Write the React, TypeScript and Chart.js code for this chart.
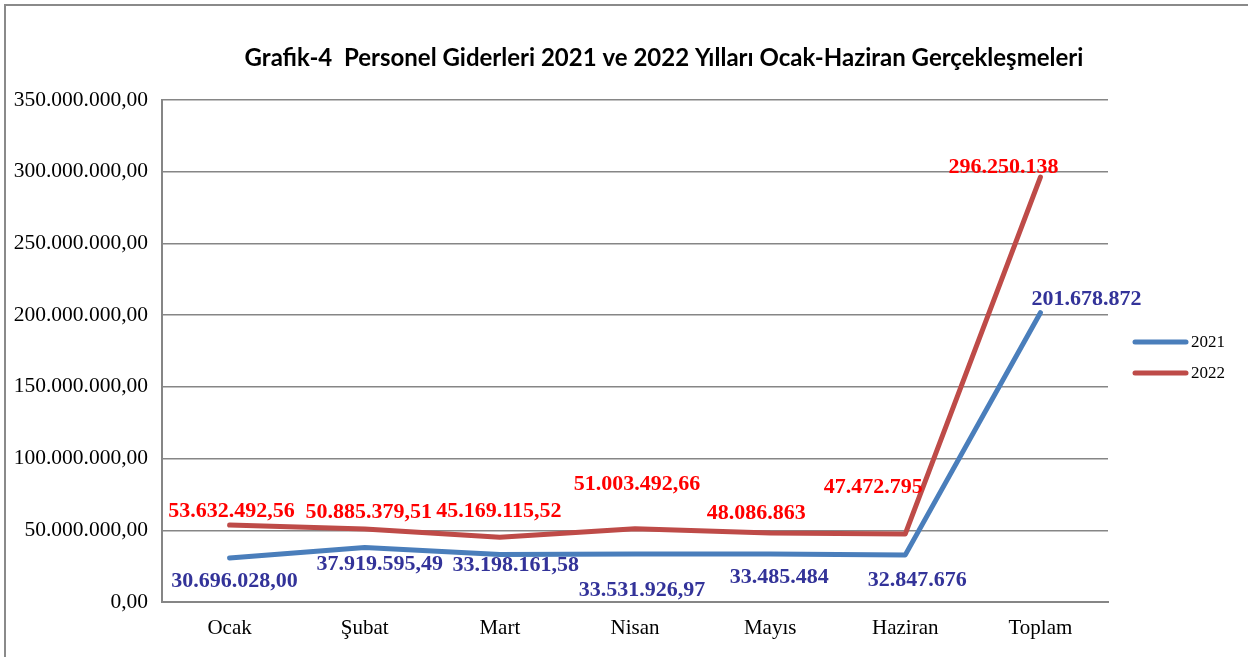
import React, { useEffect, useRef } from "react";
import { Chart, registerables } from "chart.js";
Chart.register(...registerables);

const categories = ["Ocak", "Şubat", "Mart", "Nisan", "Mayıs", "Haziran", "Toplam"];
const values2021 = [30696028.0, 37919595.49, 33198161.58, 33531926.97, 33485484, 32847676, 201678872];
const values2022 = [53632492.56, 50885379.51, 45169115.52, 51003492.66, 48086863, 47472795, 296250138];
const decimals2021 = [2, 2, 2, 2, 0, 0, 0];
const decimals2022 = [2, 2, 2, 2, 0, 0, 0];
const seriesNames = ["2021", "2022"];
const yTicks = [0, 50000000, 100000000, 150000000, 200000000, 250000000, 300000000, 350000000];
const titleText = "Grafik-4  Personel Giderleri 2021 ve 2022 Yılları Ocak-Haziran Gerçekleşmeleri";

// label offsets (px) relative to each point
const labelOffsets2021 = [[5, 23], [15, 17], [16, 11], [7, 36], [9, 23], [12, 25], [46, -13]];
const labelOffsets2022 = [[2, -14], [4, -17], [-1, -26], [2, -45], [-14, -20], [-32, -47], [-37, -10]];

function fmtTR(v: number, dec: number): string {
  const fixed = v.toFixed(dec);
  const [intPart, decPart] = fixed.split(".");
  const withDots = intPart.replace(/\B(?=(\d{3})+(?!\d))/g, ".");
  return decPart ? withDots + "," + decPart : withDots;
}

export default function App() {
  const ref = useRef<HTMLCanvasElement>(null);
  useEffect(() => {
    document.body.style.margin = "0";
    const canvas = ref.current!;
    const decs = [decimals2021, decimals2022];
    const offs = [labelOffsets2021, labelOffsets2022];
    const labelColors = ["#333399", "#FF0000"];

    const framePlugin = {
      id: "frame",
      beforeDraw(chart: any) {
        const ctx = chart.ctx;
        ctx.save();
        ctx.fillStyle = "#ffffff";
        ctx.fillRect(0, 0, chart.width, chart.height);
        ctx.strokeStyle = "#8a8a8a";
        ctx.lineWidth = 2;
        ctx.strokeRect(5, 5, chart.width + 20, chart.height + 20);
        ctx.restore();
      },
      afterDraw(chart: any) {
        const ctx = chart.ctx;
        ctx.save();
        ctx.fillStyle = "#000";
        ctx.font = "bold 24px Lato";
        ctx.textAlign = "center";
        ctx.textBaseline = "middle";
        ctx.fillText(titleText, 664, 58, 860);
        // legend
        const ys = [342, 373];
        chart.data.datasets.forEach((ds: any, i: number) => {
          ctx.strokeStyle = ds.borderColor;
          ctx.lineWidth = 5;
          ctx.lineCap = "round";
          ctx.beginPath();
          ctx.moveTo(1135, ys[i]);
          ctx.lineTo(1186, ys[i]);
          ctx.stroke();
          ctx.fillStyle = "#000";
          ctx.font = "17px 'Liberation Serif'";
          ctx.textAlign = "left";
          ctx.fillText(ds.label, 1191, ys[i] + 1);
        });
        ctx.restore();
      },
      afterDatasetsDraw(chart: any) {
        const ctx = chart.ctx;
        ctx.save();
        ctx.font = "bold 22px 'Liberation Serif'";
        ctx.textAlign = "center";
        ctx.textBaseline = "middle";
        chart.data.datasets.forEach((ds: any, di: number) => {
          const meta = chart.getDatasetMeta(di);
          ctx.fillStyle = labelColors[di];
          meta.data.forEach((pt: any, i: number) => {
            const txt = fmtTR(ds.data[i], decs[di][i]);
            ctx.fillText(txt, pt.x + offs[di][i][0], pt.y + offs[di][i][1]);
          });
        });
        ctx.restore();
      },
    };

    const chart = new Chart(canvas, {
      type: "line",
      data: {
        labels: categories,
        datasets: [
          {
            label: seriesNames[0],
            data: values2021,
            borderColor: "#4A7EBB",
            backgroundColor: "#4A7EBB",
            borderWidth: 5,
            pointRadius: 0,
            tension: 0,
            borderCapStyle: "round",
            borderJoinStyle: "round",
          },
          {
            label: seriesNames[1],
            data: values2022,
            borderColor: "#BE4B48",
            backgroundColor: "#BE4B48",
            borderWidth: 5,
            pointRadius: 0,
            tension: 0,
            borderCapStyle: "round",
            borderJoinStyle: "round",
          },
        ],
      },
      options: {
        animation: false,
        responsive: false,
        layout: { padding: { left: 0, top: 100, right: 140, bottom: 0 } },
        plugins: { legend: { display: false }, title: { display: false }, tooltip: { enabled: false } },
        scales: {
          x: {
            offset: true,
            grid: { display: false, drawTicks: false },
            border: { display: true, color: "#868686", width: 2 },
            ticks: { color: "#000", font: { family: "'Liberation Serif'", size: 21 }, padding: 14 },
            afterFit(s: any) { s.height = 55; },
          },
          y: {
            min: 0,
            max: 350000000,
            afterBuildTicks(s: any) { s.ticks = yTicks.map((v) => ({ value: v })); },
            grid: { color: "#868686", lineWidth: 1.5, drawTicks: false },
            border: { display: true, color: "#868686", width: 2 },
            ticks: {
              color: "#000",
              font: { family: "'Liberation Serif'", size: 21.5 },
              padding: 14,
              callback: (v: any) => fmtTR(Number(v), 2),
            },
            afterFit(s: any) { s.width = 162; },
          },
        },
      },
      plugins: [framePlugin],
    });
    return () => chart.destroy();
  }, []);
  return (
    <div style={{ width: 1248, height: 657 }}>
      <canvas ref={ref} width={1248} height={657} style={{ display: "block" }} />
    </div>
  );
}
